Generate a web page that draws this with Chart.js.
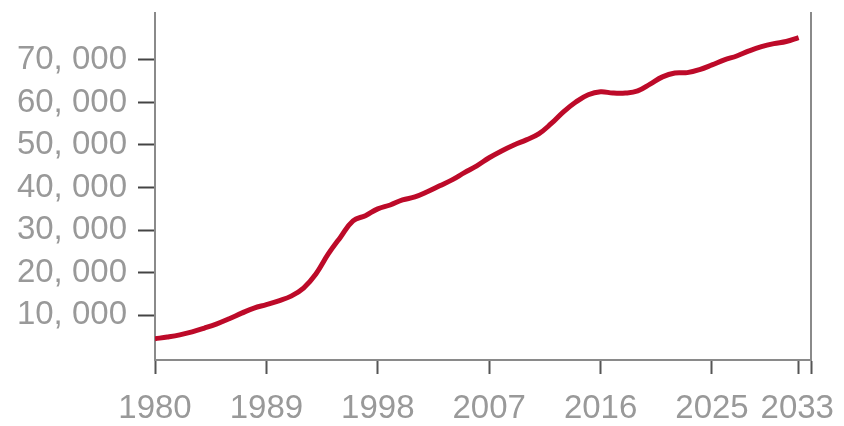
<!DOCTYPE html>
<html>
<head>
<meta charset="utf-8">
<script src="https://cdn.jsdelivr.net/npm/chart.js@4/dist/chart.umd.min.js"></script>
<style>
  html, body { margin: 0; padding: 0; background: #fff; }
  #wrap { width: 844px; height: 426px; position: relative; }
</style>
</head>
<body>
<div id="wrap"><canvas id="c" width="844" height="426"></canvas></div>
<script>
const years = [1980,1981,1982,1983,1984,1985,1986,1987,1988,1989,
  1990,1991,1992,1993,1994,1995,1996,1997,1998,1999,
  2000,2001,2002,2003,2004,2005,2006,2007,2008,2009,
  2010,2011,2012,2013,2014,2015,2016,2017,2018,2019,
  2020,2021,2022,2023,2024,2025,2026,2027,2028,2029,
  2030,2031,2032];
const values = [4500,4900,5400,6100,7000,8000,9200,10500,11700,12500,
  13400,14500,16400,19700,24400,28400,32200,33400,35000,35900,
  37100,37800,39000,40400,41800,43500,45100,47000,48600,50000,
  51200,52600,55000,57800,60100,61800,62500,62200,62200,62700,
  64300,66000,66900,67000,67700,68800,70000,70900,72100,73100,
  73800,74300,75200];
const xTicks = [1980,1989,1998,2007,2016,2025,2032,2033];
const xTickLabels = ['1980','1989','1998','2007','2016','2025','','2033'];
const yTicks = [10000,20000,30000,40000,50000,60000,70000];
const yTickLabels = ['10, 000','20, 000','30, 000','40, 000','50, 000','60, 000','70, 000'];

const points = years.map((y, i) => ({x: y, y: values[i]}));
const FONT = "'Liberation Sans', Arial, sans-serif";
const LAST_X = xTicks[xTicks.length - 1];

new Chart(document.getElementById('c'), {
  type: 'line',
  data: {
    datasets: [{
      data: points,
      borderColor: '#bd0a29',
      borderWidth: 5,
      pointRadius: 0,
      tension: 0.4,
      fill: false
    }]
  },
  options: {
    responsive: false,
    animation: false,
    layout: { padding: { top: 13, left: 0, right: 0, bottom: 0 } },
    plugins: { legend: { display: false }, tooltip: { enabled: false } },
    scales: {
      x: {
        type: 'linear',
        min: 1980, max: 2033,
        afterBuildTicks: s => { s.ticks = xTicks.map(v => ({value: v})); },
        afterFit: s => { s.height = 66; s.paddingLeft = 0; s.paddingRight = 0; },
        ticks: {
          autoSkip: false, maxRotation: 0, minRotation: 0,
          color: '#999', padding: 15,
          font: { family: FONT, size: 33 },
          // last label is pulled inward (as in the reference) by padding it with trailing spaces
          callback: (v) => { const i = xTicks.indexOf(v); if (i < 0) return ''; return v === LAST_X ? xTickLabels[i] + '   ' : xTickLabels[i]; }
        },
        grid: { drawOnChartArea: false, drawTicks: true, tickLength: 14, color: '#555', tickWidth: 2 },
        border: { display: true, color: '#8a8a8a', width: 2 }
      },
      y: {
        type: 'linear',
        min: -500, max: 81000,
        afterBuildTicks: s => { s.ticks = yTicks.map(v => ({value: v})); },
        afterFit: s => { s.width = 155; s.paddingTop = 0; s.paddingBottom = 0; },
        ticks: {
          color: '#999', padding: 11,
          font: { family: FONT, size: 33 },
          callback: (v) => { const i = yTicks.indexOf(v); return i >= 0 ? yTickLabels[i] : ''; }
        },
        grid: { drawOnChartArea: false, drawTicks: true, tickLength: 17, color: '#444', tickWidth: 2 },
        border: { display: true, color: '#8a8a8a', width: 2 }
      },
      y2: {
        type: 'linear',
        position: 'right',
        min: -500, max: 81000,
        afterBuildTicks: s => { s.ticks = []; },
        afterFit: s => { s.width = 33; s.paddingTop = 0; s.paddingBottom = 0; },
        ticks: { display: false },
        grid: { drawOnChartArea: false, drawTicks: false },
        border: { display: true, color: '#8a8a8a', width: 2 }
      }
    }
  }
});
</script>
</body>
</html>
